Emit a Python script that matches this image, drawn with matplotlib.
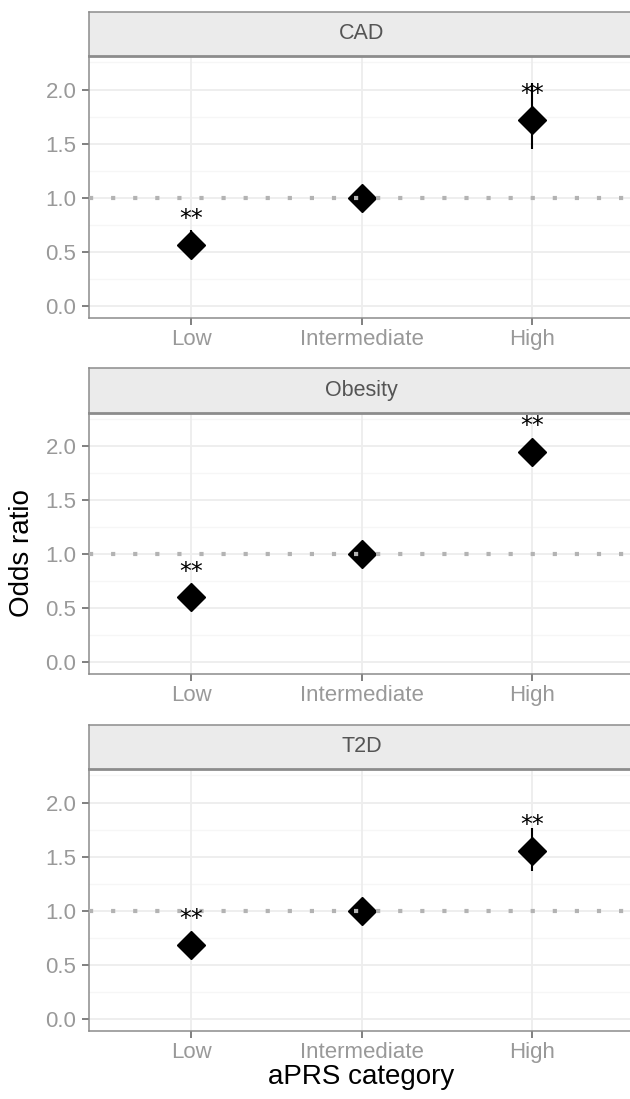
import matplotlib
matplotlib.use("Agg")
import matplotlib.pyplot as plt
import numpy as np

plt.rcParams['font.family'] = ['Liberation Sans', 'DejaVu Sans']

# data
categories = ["Low", "Intermediate", "High"]
traits = ["CAD", "Obesity", "T2D"]
odds_ratio = {
    "CAD": [0.565, 1.0, 1.72],
    "Obesity": [0.60, 1.0, 1.95],
    "T2D": [0.685, 1.0, 1.555],
}
ci_low = {
    "CAD": [0.46, 1.0, 1.45],
    "Obesity": [0.54, 1.0, 1.86],
    "T2D": [0.60, 1.0, 1.37],
}
ci_high = {
    "CAD": [0.70, 1.0, 2.06],
    "Obesity": [0.67, 1.0, 2.04],
    "T2D": [0.78, 1.0, 1.76],
}
signif = {
    "CAD": ["**", "", "**"],
    "Obesity": ["**", "", "**"],
    "T2D": ["**", "", "**"],
}
y_ticks = [0.0, 0.5, 1.0, 1.5, 2.0]

W, H = 630, 1099
fig = plt.figure(figsize=(W / 100, H / 100), dpi=100)

border = "#8c8c8c"
grid_major = "#ededed"
grid_minor = "#f6f6f6"
tick_col = "#999999"

# panel top / bottom in pixels
panels = [(56, 317.7), (412.7, 673.7), (769, 1030.7)]
strip_h = 44.5
left_px, right_px = 89, 634

x = np.arange(1, len(categories) + 1)

for trait, (top, bot) in zip(traits, panels):
    ax = fig.add_axes([left_px / W, 1 - bot / H, (right_px - left_px) / W, (bot - top) / H])
    ax.set_xlim(0.4, 3.6)
    ax.set_ylim(-0.11, 2.31)

    # grid
    for v in np.arange(0.25, 2.3, 0.5):
        ax.axhline(v, color=grid_minor, lw=1.0, zorder=0)
    for v in y_ticks:
        ax.axhline(v, color=grid_major, lw=1.3, zorder=0)
    for v in x:
        ax.axvline(v, color=grid_major, lw=1.3, zorder=0)

    or_vals = np.array(odds_ratio[trait])
    lo = np.array(ci_low[trait])
    hi = np.array(ci_high[trait])
    ax.vlines(x, lo, hi, color="black", lw=1.5, zorder=2)
    ax.plot(x, or_vals, linestyle="none", marker="D", ms=14.5, color="black", zorder=3)

    ax.axhline(1.0, color="#b3b3b3", lw=3.0, linestyle=(0, (1, 4.3)),
               dash_capstyle="butt", zorder=4)

    for xi, yi, s in zip(x, or_vals, signif[trait]):
        if s:
            ax.text(xi, yi + 0.17, s, ha="center", va="baseline", fontsize=17,
                    family="DejaVu Sans", color="black", zorder=5)

    ax.set_xticks(x)
    ax.set_xticklabels(categories)
    ax.set_yticks(y_ticks)
    ax.set_yticklabels([f"{v:.1f}" for v in y_ticks])
    ax.tick_params(axis="both", length=5, width=1.2, color="#6b6b6b",
                   labelcolor=tick_col, labelsize=16)
    ax.tick_params(axis="y", pad=4)
    ax.tick_params(axis="x", pad=3)
    for sp in ax.spines.values():
        sp.set_color(border)
        sp.set_linewidth(1.1)

    # facet strip
    sax = fig.add_axes([left_px / W, 1 - top / H, (right_px - left_px) / W, strip_h / H])
    sax.set_facecolor("#ebebeb")
    sax.set_xticks([])
    sax.set_yticks([])
    for sp in sax.spines.values():
        sp.set_color(border)
        sp.set_linewidth(1.1)
    sax.spines["bottom"].set_linewidth(2.0)
    sax.text(0.5, 0.5, trait, transform=sax.transAxes, ha="center", va="center",
             fontsize=15.5, color="#555555")

fig.text(22 / W, 1 - 553 / H, "Odds ratio", rotation=90, ha="center", va="center",
         fontsize=20, color="black")
fig.text(361 / W, 1 - 1077 / H, "aPRS category", ha="center", va="center",
         fontsize=20, color="black")

fig.savefig("out.png", dpi=100)
